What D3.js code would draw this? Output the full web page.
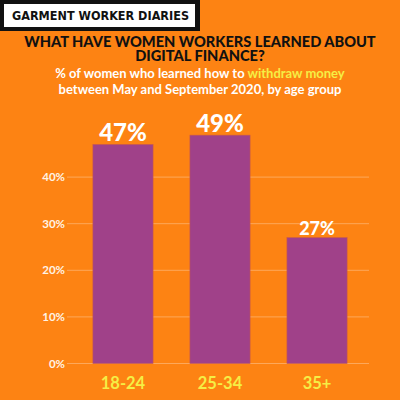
<!DOCTYPE html>
<html>
<head>
<meta charset="utf-8">
<script src="https://cdn.jsdelivr.net/npm/d3@7"></script>
<style>
  html, body { margin: 0; padding: 0; background: #FD8313; }
  svg { display: block; }
</style>
</head>
<body>
<div id="chart"></div>
<script>
const WIDTH = 400;
const HEIGHT = 400;

const BG = "#FD8313";
const BAR = "#A04189";
const YELLOW = "#F5EE45";

// data
const ageGroups = ["18-24", "25-34", "35+"];
const shares = [47, 49, 27];
const yTicks = [0, 10, 20, 30, 40];

const titleLines = ["WHAT HAVE WOMEN WORKERS LEARNED ABOUT", "DIGITAL FINANCE?"];

const svg = d3.select("#chart").append("svg")
    .attr("width", WIDTH)
    .attr("height", HEIGHT);

svg.append("rect")
    .attr("width", WIDTH)
    .attr("height", HEIGHT)
    .attr("fill", BG);

// header box
svg.append("rect")
    .attr("x", 0).attr("y", 0)
    .attr("width", 200).attr("height", 31)
    .attr("fill", "#111");
svg.append("rect")
    .attr("x", 4).attr("y", 4)
    .attr("width", 191).attr("height", 23)
    .attr("fill", "#fff");
svg.append("text")
    .attr("x", 12).attr("y", 19.5)
    .attr("font-family", "DejaVu Sans Condensed, DejaVu Sans")
    .attr("font-weight", "bold")
    .attr("font-size", 12.5)
    .attr("textLength", 177)
    .attr("lengthAdjust", "spacingAndGlyphs")
    .attr("fill", "#111")
    .text("GARMENT WORKER DIARIES");

// title (one text, two lines)
svg.append("text")
    .attr("text-anchor", "middle")
    .attr("font-family", "Lato")
    .attr("font-weight", 900)
    .attr("font-size", 14.6)
    .attr("fill", "#111")
    .selectAll("tspan")
    .data(titleLines)
    .join("tspan")
    .attr("x", 200)
    .attr("y", (d, i) => 46.5 + i * 14)
    .text(d => d);

// subtitle
const sub = svg.append("text")
    .attr("text-anchor", "middle")
    .attr("font-family", "Lato")
    .attr("font-weight", "bold")
    .attr("font-size", 13)
    .attr("fill", "#fff");
const l1 = sub.append("tspan").attr("x", 200).attr("y", 77.5);
l1.append("tspan").text("% of women who learned how to ");
l1.append("tspan").attr("fill", YELLOW).text("withdraw money");
sub.append("tspan").attr("x", 200).attr("y", 93.5)
    .text("between May and September 2020, by age group");

// scales
const x = d3.scaleBand()
    .domain(ageGroups)
    .range([73.5, 366.5])
    .paddingInner(0.38)
    .paddingOuter(0.2);

const y = d3.scaleLinear()
    .domain([0, 50])
    .range([363.5, 130.5]);

// grid
svg.append("g")
    .selectAll("line")
    .data(yTicks)
    .join("line")
    .attr("x1", 67).attr("x2", 369)
    .attr("y1", d => y(d)).attr("y2", d => y(d))
    .attr("stroke", "#fff")
    .attr("stroke-opacity", 0.3)
    .attr("stroke-width", 1);

svg.append("g")
    .selectAll("text")
    .data(yTicks)
    .join("text")
    .attr("x", 65)
    .attr("y", d => y(d) + 4)
    .attr("text-anchor", "end")
    .attr("font-family", "Lato")
    .attr("font-weight", "bold")
    .attr("font-size", 11.5)
    .attr("fill", "#FFF3E6")
    .text(d => d + "%");

// bars
const data = ageGroups.map((g, i) => ({ group: g, value: shares[i] }));

svg.append("g")
    .selectAll("rect")
    .data(data)
    .join("rect")
    .attr("x", d => x(d.group))
    .attr("y", d => y(d.value))
    .attr("width", x.bandwidth())
    .attr("height", d => y(0) - y(d.value))
    .attr("fill", BAR)
    .attr("stroke", "#C5584F")
    .attr("stroke-width", 0.6);

// value labels
svg.append("g")
    .selectAll("text")
    .data(data)
    .join("text")
    .attr("x", d => x(d.group) + x.bandwidth() / 2)
    .attr("y", d => y(d.value) - 3)
    .attr("text-anchor", "middle")
    .attr("font-family", "Lato")
    .attr("font-weight", 900)
    .attr("font-size", d => d.value > 40 ? 24 : 18)
    .attr("fill", "#fff")
    .text(d => d.value + "%");

// x labels
svg.append("g")
    .selectAll("text")
    .data(ageGroups)
    .join("text")
    .attr("x", d => x(d) + x.bandwidth() / 2)
    .attr("y", 389)
    .attr("text-anchor", "middle")
    .attr("font-family", "Lato")
    .attr("font-weight", "bold")
    .attr("font-size", 16.5)
    .attr("fill", YELLOW)
    .text(d => d);
</script>
</body>
</html>
